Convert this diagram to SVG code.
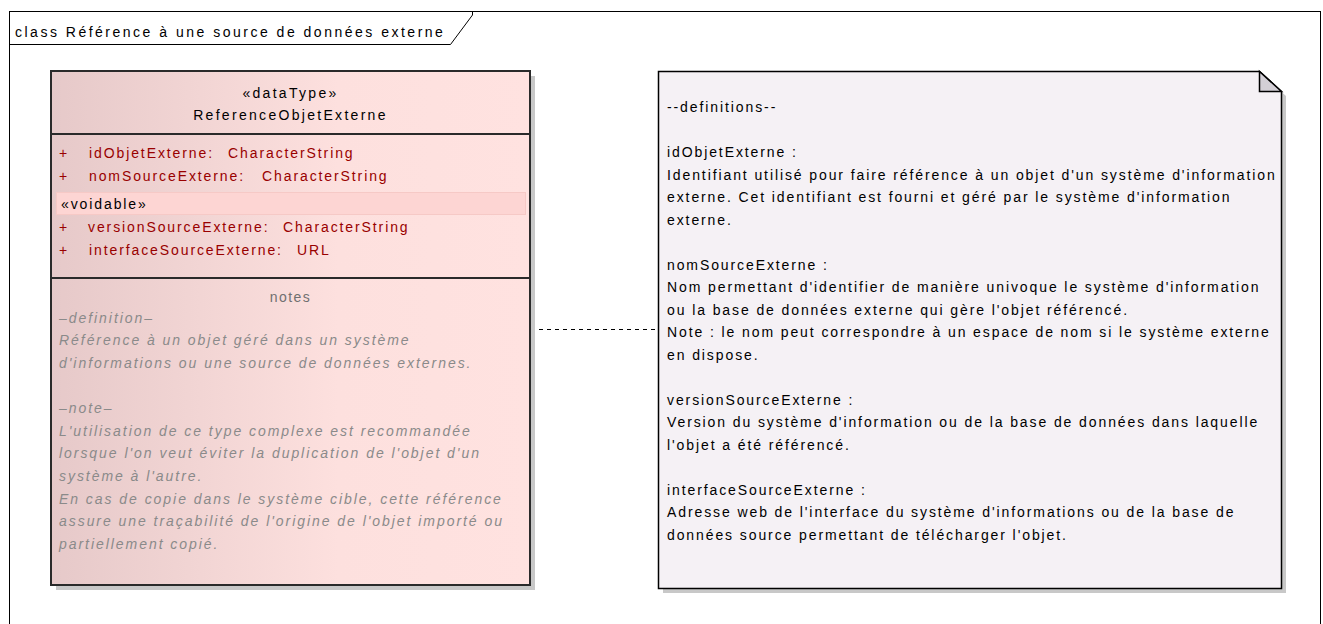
<svg xmlns="http://www.w3.org/2000/svg" width="1323" height="624" viewBox="0 0 1323 624">
<defs>
<linearGradient id="classFill" x1="0" y1="0" x2="1" y2="0">
<stop offset="0" stop-color="#e6c9c9"/>
<stop offset="0.6" stop-color="#fde0de"/>
<stop offset="1" stop-color="#ffe2e0"/>
</linearGradient>
</defs>
<style>
text{font-family:"Liberation Sans",Arial,sans-serif;}
.title{font-size:14px;letter-spacing:2.5px;fill:#000;}
.hdr{font-size:14px;letter-spacing:2.3px;fill:#000;}
.attr{font-size:14px;letter-spacing:1.9px;fill:#990000;}
.ster{font-size:14px;letter-spacing:1.9px;fill:#000;}
.ntitle{font-size:14px;letter-spacing:1.5px;fill:#707070;}
.cnote{font-size:14px;letter-spacing:1.95px;fill:#8a8a8a;font-style:italic;}
.ntext{font-size:14px;letter-spacing:1.9px;fill:#000;}
</style>
<rect width="1323" height="624" fill="#fff"/>
<g id="frame">
<rect x="9.5" y="11.5" width="1311" height="640" fill="none" stroke="#000" stroke-width="1"/>
<path d="M9.5,44.5 H450.5 L472.5,15 V11.5" fill="none" stroke="#000" stroke-width="1"/>
<text class="title" x="15" y="37">class Référence à une source de données externe</text>
</g>
<g id="connectors">
<line x1="531" y1="329.5" x2="657" y2="329.5" stroke="#000" stroke-width="1" stroke-dasharray="4,4"/>
</g>
<g id="ReferenceObjetExterne">
<rect x="56" y="76" width="479" height="514" fill="#c8c8c8"/>
<rect x="51" y="71" width="479" height="514" fill="url(#classFill)" stroke="#2a2a2a" stroke-width="2"/>
<line x1="51" y1="134" x2="530" y2="134" stroke="#2a2a2a" stroke-width="2"/>
<line x1="51" y1="278" x2="530" y2="278" stroke="#2a2a2a" stroke-width="2"/>
<text class="hdr" x="290.5" y="98" text-anchor="middle">«dataType»</text>
<text class="hdr" x="290.5" y="120" text-anchor="middle">ReferenceObjetExterne</text>
<rect x="56.5" y="192.5" width="469" height="22" fill="#fdd5d3" stroke="#f6c9c6" stroke-width="1"/>
<text class="attr" x="59" y="158">+</text><text class="attr" x="89" y="158">idObjetExterne:</text><text class="attr" x="228" y="158">CharacterString</text>
<text class="attr" x="59" y="181">+</text><text class="attr" x="89" y="181">nomSourceExterne:</text><text class="attr" x="262" y="181">CharacterString</text>
<text class="ster" x="61" y="209">«voidable»</text>
<text class="attr" x="59" y="232">+</text><text class="attr" x="88" y="232">versionSourceExterne:</text><text class="attr" x="283" y="232">CharacterString</text>
<text class="attr" x="59" y="255">+</text><text class="attr" x="89" y="255">interfaceSourceExterne:</text><text class="attr" x="297" y="255">URL</text>
<text class="ntitle" x="290.5" y="302" text-anchor="middle">notes</text>
<text class="cnote" x="59" y="322.5">–definition–</text>
<text class="cnote" x="59" y="345">Référence à un objet géré dans un système</text>
<text class="cnote" x="59" y="368">d'informations ou une source de données externes.</text>
<text class="cnote" x="59" y="413">–note–</text>
<text class="cnote" x="59" y="435.5">L'utilisation de ce type complexe est recommandée</text>
<text class="cnote" x="59" y="458">lorsque l'on veut éviter la duplication de l'objet d'un</text>
<text class="cnote" x="59" y="481">système à l'autre.</text>
<text class="cnote" x="59" y="503.5">En cas de copie dans le système cible, cette référence</text>
<text class="cnote" x="59" y="526">assure une traçabilité de l'origine de l'objet importé ou</text>
<text class="cnote" x="59" y="548.5">partiellement copié.</text>
</g>
<g id="note">
<path d="M663,76 H1264 L1286,96 V593 H663 Z" fill="#c8c8c8"/>
<path d="M658.5,71.5 H1259.5 L1281.5,91.5 V588.5 H658.5 Z" fill="#f5f1f5" stroke="#000" stroke-width="1.5"/>
<path d="M1259.5,71.5 V91.5 H1281.5 Z" fill="#d3cfd6" stroke="#000" stroke-width="1.5"/>
<text class="ntext" x="667" y="112">--definitions--</text>
<text class="ntext" x="667" y="157">idObjetExterne :</text>
<text class="ntext" x="667" y="179.5">Identifiant utilisé pour faire référence à un objet d'un système d'information</text>
<text class="ntext" x="667" y="202">externe. Cet identifiant est fourni et géré par le système d'information</text>
<text class="ntext" x="667" y="224.5">externe.</text>
<text class="ntext" x="667" y="269.5">nomSourceExterne :</text>
<text class="ntext" x="667" y="292">Nom permettant d'identifier de manière univoque le système d'information</text>
<text class="ntext" x="667" y="314.5">ou la base de données externe qui gère l'objet référencé.</text>
<text class="ntext" x="667" y="337">Note : le nom peut correspondre à un espace de nom si le système externe</text>
<text class="ntext" x="667" y="359.5">en dispose.</text>
<text class="ntext" x="667" y="404.5">versionSourceExterne :</text>
<text class="ntext" x="667" y="427">Version du système d'information ou de la base de données dans laquelle</text>
<text class="ntext" x="667" y="449.5">l'objet a été référencé.</text>
<text class="ntext" x="667" y="494.5">interfaceSourceExterne :</text>
<text class="ntext" x="667" y="517">Adresse web de l'interface du système d'informations ou de la base de</text>
<text class="ntext" x="667" y="539.5">données source permettant de télécharger l'objet.</text>
</g>
</svg>
